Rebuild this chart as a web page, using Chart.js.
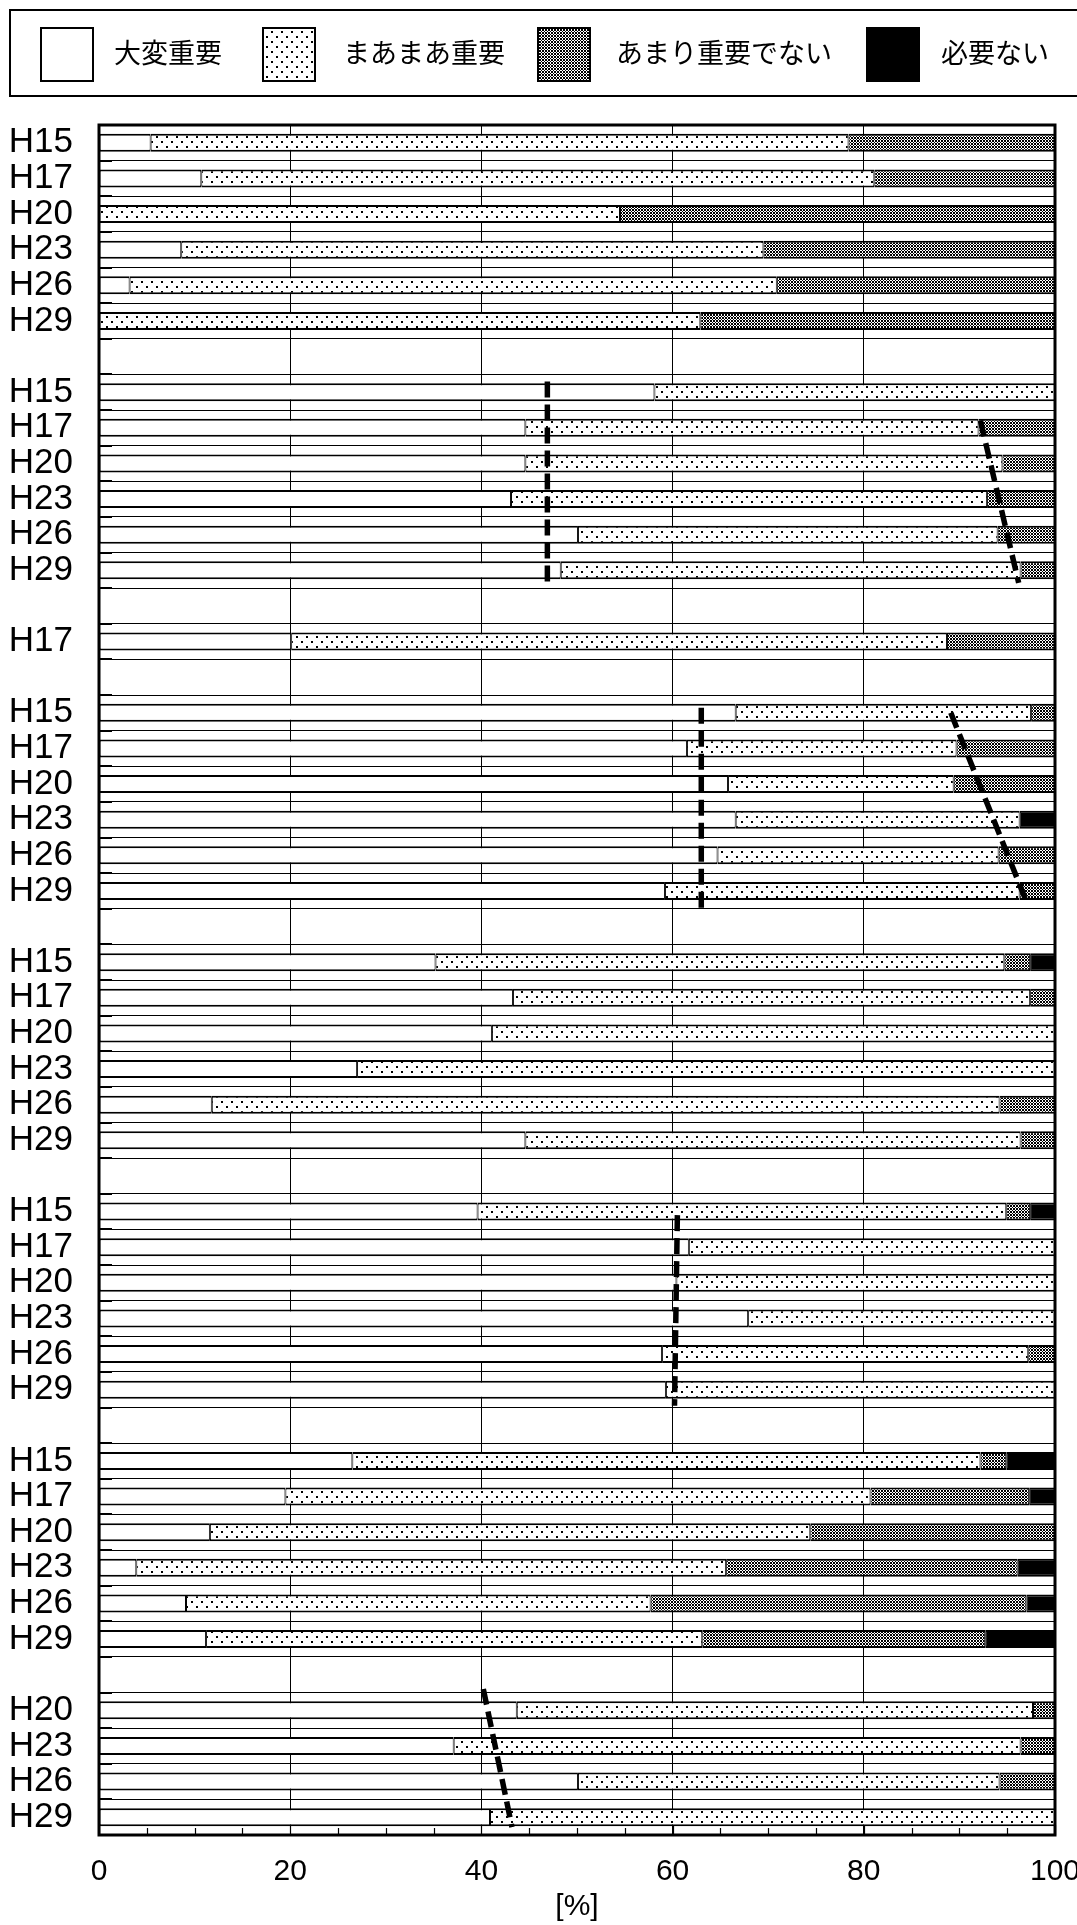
<!DOCTYPE html>
<html>
<head>
<meta charset="utf-8">
<script src="https://cdn.jsdelivr.net/npm/chart.js@4.4.1/dist/chart.umd.min.js"></script>
<style>
  html,body{margin:0;padding:0;background:#fff;}
  canvas{display:block;}
</style>
</head>
<body>
<canvas id="chart" width="1077" height="1925" style="width:1077px;height:1925px"></canvas>
<script>
// categories (blank = gap between groups)
const categories = [
  'H15','H17','H20','H23','H26','H29','',
  'H15','H17','H20','H23','H26','H29','',
  'H17','',
  'H15','H17','H20','H23','H26','H29','',
  'H15','H17','H20','H23','H26','H29','',
  'H15','H17','H20','H23','H26','H29','',
  'H15','H17','H20','H23','H26','H29','',
  'H20','H23','H26','H29'
];
const seriesNames = ['大変重要','まあまあ重要','あまり重要でない','必要ない'];

const veryImportant = [
  5.4,10.7,0,8.6,3.2,0,null,
  58.1,44.6,44.6,43.1,50.1,48.3,null,
  20.1,null,
  66.6,61.5,65.8,66.6,64.7,59.2,null,
  35.2,43.3,41.1,27.0,11.8,44.6,null,
  39.6,61.7,60.4,67.9,58.9,59.3,null,
  26.5,19.5,11.6,3.9,9.1,11.2,null,
  43.7,37.1,50.1,40.9
];
const fairlyImportant = [
  73.0,70.4,54.5,60.9,67.7,62.9,null,
  41.9,47.4,49.9,49.8,43.9,48.1,null,
  68.6,null,
  30.9,28.2,23.6,29.7,29.4,37.1,null,
  59.5,54.1,58.9,73.0,82.4,51.8,null,
  55.3,38.3,39.6,32.1,38.3,40.7,null,
  65.7,61.2,62.8,61.7,48.6,51.9,null,
  54.0,59.3,44.1,59.1
];
const notVeryImportant = [
  21.6,18.9,45.5,30.5,29.1,37.1,null,
  0,8.0,5.5,7.1,6.0,3.6,null,
  11.3,null,
  2.5,10.3,10.6,0,5.9,3.7,null,
  2.7,2.6,0,0,5.8,3.6,null,
  2.5,0,0,0,2.8,0,null,
  2.7,16.6,25.6,30.5,39.3,29.6,null,
  2.3,3.6,5.8,0
];
const notNeeded = [
  0,0,0,0,0,0,null,
  0,0,0,0,0,0,null,
  0,null,
  0,0,0,3.7,0,0,null,
  2.6,0,0,0,0,0,null,
  2.6,0,0,0,0,0,null,
  5.1,2.7,0,3.9,3.0,7.3,null,
  0,0,0,0
];

// dashed guide lines: x = %, y = row position (row index, fractional)
const guideA = [{x:46.9,y:6.7},{x:46.9,y:12.45}];
const guideB = [{x:92.2,y:7.8},{x:96.2,y:12.35}];
const guideC = [{x:63.0,y:15.86},{x:63.0,y:21.58}];
const guideD = [{x:89.1,y:16.0},{x:97.0,y:21.29}];
const guideE = [{x:60.5,y:30.1},{x:60.2,y:35.45}];
const guideF = [{x:40.2,y:43.4},{x:43.2,y:47.28}];
const guides = [guideA,guideB,guideC,guideD,guideE,guideF];

const FONT = "'Liberation Sans','Noto Sans CJK JP',sans-serif";

function dotPattern(){
  const c=document.createElement('canvas'); c.width=10; c.height=10;
  const g=c.getContext('2d');
  g.fillStyle='#fff'; g.fillRect(0,0,10,10);
  g.fillStyle='#000'; g.fillRect(1,1,2,2); g.fillRect(6,6,2,2);
  return g.createPattern(c,'repeat');
}
function checkPattern(){
  const c=document.createElement('canvas'); c.width=3; c.height=3;
  const g=c.getContext('2d');
  g.fillStyle='#fff'; g.fillRect(0,0,3,3);
  g.fillStyle='#000';
  [[0,0],[2,0],[1,1],[0,2],[2,2]].forEach(p=>g.fillRect(p[0],p[1],1,1));
  return g.createPattern(c,'repeat');
}
const fills = ['#ffffff', dotPattern(), checkPattern(), '#000000'];
const values = [veryImportant, fairlyImportant, notVeryImportant, notNeeded];

const barSets = seriesNames.map((name,i)=>({
  type:'bar', label:name, data:values[i], backgroundColor:fills[i],
  borderColor:'#000', borderWidth:{top:2,bottom:2,left:1,right:1}, borderSkipped:false,
  stack:'bars', grouped:false,
  barPercentage:0.505, categoryPercentage:1, order:1, xAxisID:'x', yAxisID:'y'
}));
const lineSets = guides.map((pts,i)=>({
  type:'line', label:'guide'+i, data:pts, indexAxis:'y', xAxisID:'x', yAxisID:'yLine',
  stack:'guide'+i, borderColor:'#000', borderWidth:5.5, borderDash:[16,7],
  pointRadius:0, fill:false, tension:0, order:0
}));

// frame, inner row ticks, bottom minor ticks, legend
const decor = {
  id:'decor',
  afterDatasetsDraw(chart){
    const {ctx, chartArea:a, scales:{x,y}} = chart;
    ctx.save();
    ctx.strokeStyle='#000';
    ctx.lineWidth=2;
    for(let i=0;i<=categories.length;i++){
      const py=Math.round(y.getPixelForValue(i-0.5));
      ctx.beginPath(); ctx.moveTo(a.left,py); ctx.lineTo(a.left+13,py); ctx.stroke();
    }
    ctx.lineWidth=1.2;
    x.ticks.forEach(t=>{
      const px=Math.round(x.getPixelForValue(t.value))+0.5;
      ctx.beginPath(); ctx.moveTo(px,a.bottom); ctx.lineTo(px,a.bottom-(t.value%20===0?10:7)); ctx.stroke();
    });
    ctx.lineWidth=3;
    ctx.strokeRect(a.left,a.top,a.right-a.left,a.bottom-a.top);
    ctx.restore();
  },
  afterDraw(chart){
    const ctx=chart.ctx;
    ctx.save();
    ctx.strokeStyle='#000'; ctx.lineWidth=2;
    ctx.strokeRect(10,10,1090,86);
    const swX=[40,262,537,866], txX=[114,343,616,941];
    ctx.font="27px 'Noto Sans CJK JP',sans-serif";
    ctx.textBaseline='middle'; ctx.textAlign='left';
    chart.data.datasets.filter(d=>d.type==='bar').forEach((d,i)=>{
      ctx.fillStyle=d.backgroundColor; ctx.fillRect(swX[i],27,54,55);
      ctx.lineWidth=2; ctx.strokeRect(swX[i]+1,28,52,53);
      ctx.fillStyle='#000'; ctx.fillText(d.label, txX[i], 53);
    });
    ctx.restore();
  }
};

new Chart(document.getElementById('chart'), {
  data:{ labels:categories, datasets:[...barSets, ...lineSets] },
  options:{
    indexAxis:'y', responsive:false, animation:false, devicePixelRatio:1,
    layout:{ padding:{ top:125, right:22, bottom:0, left:0 } },
    plugins:{ legend:{display:false}, tooltip:{enabled:false} },
    scales:{
      x:{
        type:'linear', stacked:true, min:0, max:100, position:'bottom',
        ticks:{ stepSize:5, autoSkip:false, maxRotation:0, padding:19, color:'#000',
          font:{family:FONT,size:30},
          callback:v=> v%20===0 ? String(v) : '' },
        grid:{ drawTicks:false, lineWidth:1,
          color:c=> (c.tick && c.tick.value%20===0 && c.tick.value>0 && c.tick.value<100) ? '#000' : 'rgba(0,0,0,0)' },
        border:{display:false},
        title:{ display:true, text:'[%]', color:'#000', font:{family:FONT,size:30}, padding:{top:0,bottom:0} },
        afterFit(s){ s.height=90; s.paddingLeft=0; s.paddingRight=0; }
      },
      y:{
        type:'category', stacked:true, position:'left', offset:true,
        ticks:{ autoSkip:false, padding:26, color:'#000', font:{family:FONT,size:35} },
        grid:{ drawTicks:false, offset:true, color:'#000', lineWidth:1 },
        border:{display:false},
        afterFit(s){ s.width=99; s.paddingTop=0; s.paddingBottom=0; }
      },
      yLine:{
        type:'linear', display:false, reverse:true, min:-0.5, max:categories.length-0.5,
        position:'left', grid:{display:false}
      }
    }
  },
  plugins:[decor]
});
</script>
</body>
</html>
